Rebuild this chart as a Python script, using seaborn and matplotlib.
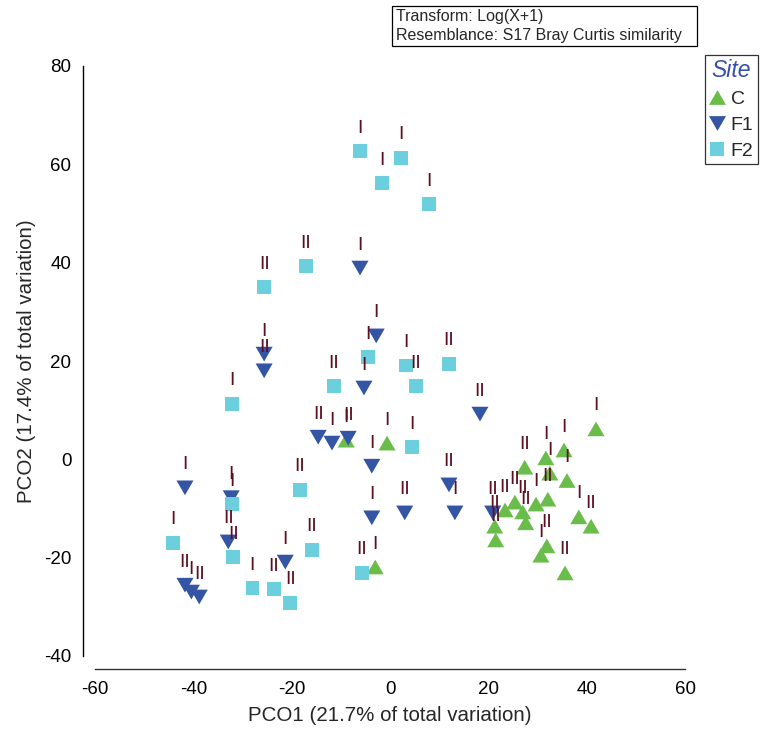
import matplotlib
matplotlib.use("Agg")
import matplotlib.pyplot as plt
from matplotlib.path import Path
from matplotlib.patches import Rectangle
import pandas as pd
import seaborn as sns

# PCO scores and group labels per sample, by site
c_pco1 = [41.9, 35.4, 31.7, 27.4, 32.5, 36.0, 23.4, 25.4, 27.0, 29.7, 32.1,
          27.6, 21.3, 21.5, 38.4, 40.9, 31.9, 30.7, 35.6, -0.6, -8.9, -3.0]
c_pco2 = [6.2, 1.9, 0.3, -1.6, -2.8, -4.3, -10.3, -8.7, -10.7, -9.1, -8.1,
          -12.9, -13.6, -16.4, -11.7, -13.6, -17.6, -19.5, -23.1, 3.3, 3.9, -21.9]
c_grp = ["I", "I", "I", "II", "I", "I", "II", "II", "II", "I", "II",
         "II", "II", "II", "I", "II", "II", "I", "II", "I", "I", "I"]

f1_pco1 = [-6.1, -25.6, -25.6, -2.8, -5.3, 18.3, -14.6, -11.8, -8.5, -3.7, -3.7,
           3.0, 12.0, 13.2, 20.9, -41.7, -32.9, -21.3, -41.7, -40.4, -38.8, -32.3]
f1_pco2 = [38.9, 21.4, 18.0, 25.1, 14.5, 9.2, 4.5, 3.3, 4.3, -1.4, -11.9,
           -10.9, -5.2, -10.9, -10.9, -5.8, -16.8, -20.9, -25.6, -27.0, -28.0, -7.8]
f1_grp = ["I", "I", "II", "I", "I", "II", "II", "I", "II", "I", "I",
          "II", "II", "I", "II", "I", "II", "I", "II", "I", "II", "I"]

f2_pco1 = [-6.1, 2.2, -1.6, 7.9, -17.1, -25.6, -4.5, 3.3, 12.0, -11.4, 5.3,
           -32.1, 4.5, -18.3, -32.1, -15.9, -31.9, -44.1, -28.0, -23.6, -20.3, -5.7]
f2_pco2 = [62.7, 61.3, 56.2, 51.9, 39.3, 35.0, 20.8, 19.1, 19.4, 14.9, 14.9,
           11.3, 2.5, -6.2, -9.1, -18.4, -19.9, -17.0, -26.2, -26.4, -29.2, -23.1]
f2_grp = ["I", "I", "I", "I", "II", "II", "I", "I", "II", "II", "II",
          "I", "I", "II", "I", "II", "II", "I", "I", "II", "II", "II"]

sites = ["C", "F1", "F2"]
site_colors = {"C": "#6bbd4b", "F1": "#3454a4", "F2": "#6ccfdd"}

df = pd.DataFrame({
    "PCO1": c_pco1 + f1_pco1 + f2_pco1,
    "PCO2": c_pco2 + f1_pco2 + f2_pco2,
    "Group": c_grp + f1_grp + f2_grp,
    "Site": ["C"] * len(c_pco1) + ["F1"] * len(f1_pco1) + ["F2"] * len(f2_pco1),
})

# equilateral triangles (width = marker size) and a square
tri_up = Path([(0, 0.866), (-1, -0.866), (1, -0.866), (0, 0.866)],
              [Path.MOVETO, Path.LINETO, Path.LINETO, Path.CLOSEPOLY])
tri_down = Path([(0, -0.866), (-1, 0.866), (1, 0.866), (0, -0.866)],
                [Path.MOVETO, Path.LINETO, Path.LINETO, Path.CLOSEPOLY])
site_markers = {"C": tri_up, "F1": tri_down, "F2": "s"}
site_sizes = {"C": 150, "F1": 150, "F2": 95}

sns.set_style("white")
plt.rcParams["font.family"] = ["Liberation Sans", "DejaVu Sans"]
plt.rcParams["axes.unicode_minus"] = False

fig = plt.figure(figsize=(7.6, 7.29), dpi=100)
ax = fig.add_axes([95 / 760, 73 / 729, 590 / 760, 590 / 729])

sns.scatterplot(data=df, x="PCO1", y="PCO2", hue="Site", style="Site", size="Site",
                hue_order=sites, style_order=sites, size_order=sites,
                palette=site_colors, markers=site_markers, sizes=site_sizes,
                linewidth=0, alpha=1, ax=ax, zorder=3)

for _, row in df.iterrows():
    ax.annotate(row["Group"], (row["PCO1"], row["PCO2"]), xytext=(0, 13.3),
                textcoords="offset points", ha="center", va="baseline",
                fontsize=14, color="#5c0f1e", zorder=4)

ax.set_xlim(-60, 60)
ax.set_ylim(-40, 80)
ax.set_xticks(range(-60, 61, 20))
ax.set_yticks(range(-40, 81, 20))
ax.set_xlabel("PCO1 (21.7% of total variation)", fontsize=14.8, labelpad=6)
ax.set_ylabel("PCO2 (17.4% of total variation)", fontsize=14.8, labelpad=6)

for side in ("top", "right"):
    ax.spines[side].set_visible(False)
for side in ("left", "bottom"):
    ax.spines[side].set_position(("outward", 9))
    ax.spines[side].set_linewidth(1.0)
ax.spines["left"].set_color("black")
ax.spines["bottom"].set_color("#333333")
ax.tick_params(axis="both", direction="inout", length=12, width=0.9,
               labelsize=13.5, colors="black")
ax.tick_params(axis="y", pad=2)
ax.tick_params(axis="x", pad=3)
ax.grid(False)

sns.move_legend(ax, "upper left", bbox_to_anchor=(705 / 760, 1 - 55 / 729),
                bbox_transform=fig.transFigure, frameon=True, fancybox=False,
                title="Site", fontsize=14, title_fontsize=16.5,
                borderpad=0.22, handlelength=0.8, handletextpad=0.3,
                labelspacing=0.42, borderaxespad=0, markerscale=1.0)
leg = ax.get_legend()
leg.get_frame().set_edgecolor("black")
leg.get_frame().set_linewidth(0.9)
leg.get_title().set_fontstyle("italic")
leg.get_title().set_color("#3550a8")

# transform / resemblance note
fig.add_artist(Rectangle((392 / 760, 1 - 46 / 729), 305 / 760, 40 / 729,
                         transform=fig.transFigure, fill=False,
                         edgecolor="black", linewidth=0.9))
fig.text(396 / 760, 1 - 16 / 729, "Transform: Log(X+1)", fontsize=11.5,
         ha="left", va="center")
fig.text(396 / 760, 1 - 35.5 / 729, "Resemblance: S17 Bray Curtis similarity",
         fontsize=11.5, ha="left", va="center")

fig.savefig("out.png", dpi=100)
